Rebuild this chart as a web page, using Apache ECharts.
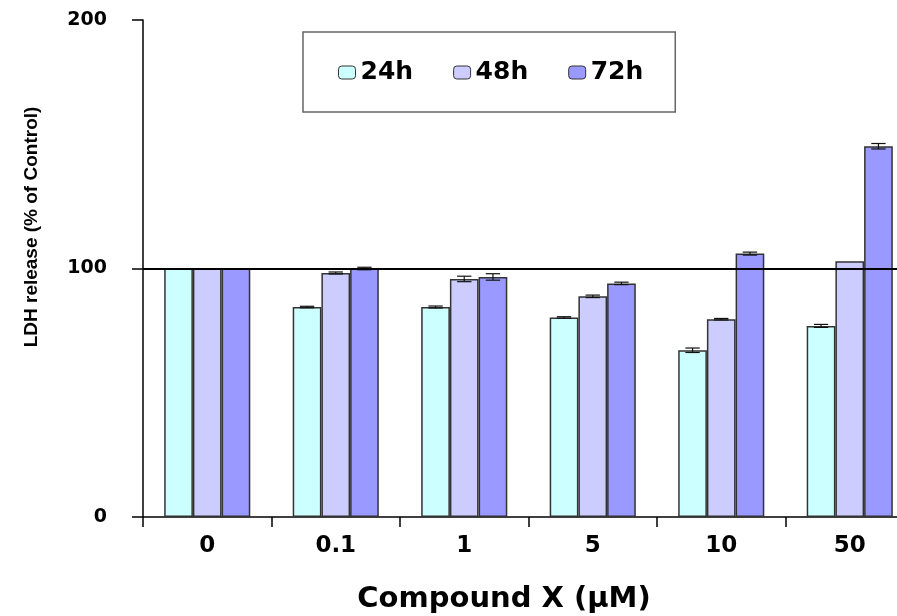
<!DOCTYPE html>
<html>
<head>
<meta charset="utf-8">
<script src="https://cdn.jsdelivr.net/npm/echarts@6/dist/echarts.min.js"></script>
<style>
  html, body { margin: 0; padding: 0; background: #fff; overflow: hidden; }
  #chart { width: 920px; height: 616px; }
</style>
</head>
<body>
<div id="chart"></div>
<script>
// ---- data ----
const categories = ['0', '0.1', '1', '5', '10', '50'];
const seriesNames = ['24h', '48h', '72h'];
const values24 = [100, 84.5, 84.5, 80.3, 67.1, 76.9];
const values48 = [100, 98.2, 95.8, 88.8, 79.6, 102.9];
const values72 = [100, 100.0, 96.6, 94.0, 106.0, 149.2];
const errors24 = [0, 0.3, 0.4, 0.3, 0.9, 0.6];
const errors48 = [0, 0.4, 1.1, 0.5, 0.3, 0];
const errors72 = [0, 0.5, 1.3, 0.5, 0.6, 1.1];
const yTicks = [0, 100, 200];
const referenceLevel = 100;

const colors = ['#CCFFFF', '#CCCCFF', '#9999FF'];
const allValues = [values24, values48, values72];
const allErrors = [errors24, errors48, errors72];
const CAT_GAP = 0.33;
const BOLD = 'DejaVu Sans';

const chart = echarts.init(document.getElementById('chart'), null, { renderer: 'canvas' });

const barSeries = seriesNames.map((name, k) => ({
  name: name,
  type: 'bar',
  data: allValues[k],
  barGap: '0%',
  barCategoryGap: (CAT_GAP * 100) + '%',
  itemStyle: { color: colors[k], borderColor: '#333', borderWidth: 1.5 },
  emphasis: { disabled: true },
  z: 2,
  markLine: k === 2 ? {
    silent: true,
    symbol: ['none', 'none'],
    label: { show: false },
    lineStyle: { color: '#000', width: 2, type: 'solid' },
    data: [{ yAxis: referenceLevel }],
    z: 6
  } : undefined
}));

const errSeries = seriesNames.map((name, k) => ({
  type: 'custom',
  name: name + ' err',
  z: 5,
  silent: true,
  clip: false,
  data: allValues[k].map((v, i) => [i, v, allErrors[k][i]]),
  renderItem: function (params, api) {
    const i = api.value(0), v = api.value(1), e = api.value(2);
    if (!e) return null;
    const band = api.size([1, 0])[0];
    const barW = band * (1 - CAT_GAP) / 3;
    const cx = api.coord([i, v])[0] + (k - 1) * barW;
    const yTop = api.coord([i, v + e])[1];
    const yBot = api.coord([i, v - e])[1];
    const hw = barW * 0.25;
    const st = { stroke: '#111', lineWidth: 1.2 };
    return {
      type: 'group',
      children: [
        { type: 'line', shape: { x1: cx, y1: yTop, x2: cx, y2: yBot }, style: st },
        { type: 'line', shape: { x1: cx - hw, y1: yTop, x2: cx + hw, y2: yTop }, style: st },
        { type: 'line', shape: { x1: cx - hw, y1: yBot, x2: cx + hw, y2: yBot }, style: st }
      ]
    };
  }
}));

const option = {
  animation: false,
  backgroundColor: '#fff',
  grid: { left: 143, top: 20, right: 6, bottom: 99, containLabel: false },
  legend: {
    data: seriesNames,
    left: 303,
    top: 32,
    orient: 'horizontal',
    padding: [28, 32, 27, 35],
    itemGap: 40,
    itemWidth: 17,
    itemHeight: 13,
    borderColor: '#666',
    borderWidth: 1.5,
    itemStyle: { borderColor: '#333', borderWidth: 1 },
    textStyle: { fontFamily: BOLD, fontWeight: 'bold', fontSize: 25, color: '#000' },
    selectedMode: false
  },
  xAxis: {
    type: 'category',
    data: categories,
    boundaryGap: true,
    axisLine: { lineStyle: { color: '#000', width: 1.5 } },
    axisTick: { show: true, length: 10, lineStyle: { color: '#000', width: 1.5 }, alignWithLabel: false },
    axisLabel: { margin: 18, fontFamily: BOLD, fontWeight: 'bold', fontSize: 23, color: '#000' },
    splitLine: { show: false }
  },
  yAxis: {
    type: 'value',
    min: yTicks[0],
    max: yTicks[yTicks.length - 1],
    interval: yTicks[1] - yTicks[0],
    axisLine: { show: true, lineStyle: { color: '#000', width: 1.5 } },
    axisTick: { show: true, length: 11, lineStyle: { color: '#000', width: 1.5 } },
    axisLabel: { margin: 36, fontFamily: BOLD, fontWeight: 'bold', fontSize: 19, color: '#000' },
    splitLine: { show: false }
  },
  graphic: [
    {
      type: 'text',
      x: 504, y: 599,
      style: {
        text: 'Compound X (μM)',
        fontFamily: BOLD, fontWeight: 'bold', fontSize: 29, fill: '#000',
        textAlign: 'center', textVerticalAlign: 'middle'
      }
    },
    {
      type: 'text',
      x: 32, y: 227,
      rotation: Math.PI / 2,
      style: {
        text: 'LDH release (% of Control)',
        fontFamily: "'Liberation Sans', Arial",
        fontWeight: 'bold', fontSize: 19, fill: '#000',
        textAlign: 'center', textVerticalAlign: 'middle'
      }
    }
  ],
  series: barSeries.concat(errSeries)
};

chart.setOption(option);
</script>
</body>
</html>
